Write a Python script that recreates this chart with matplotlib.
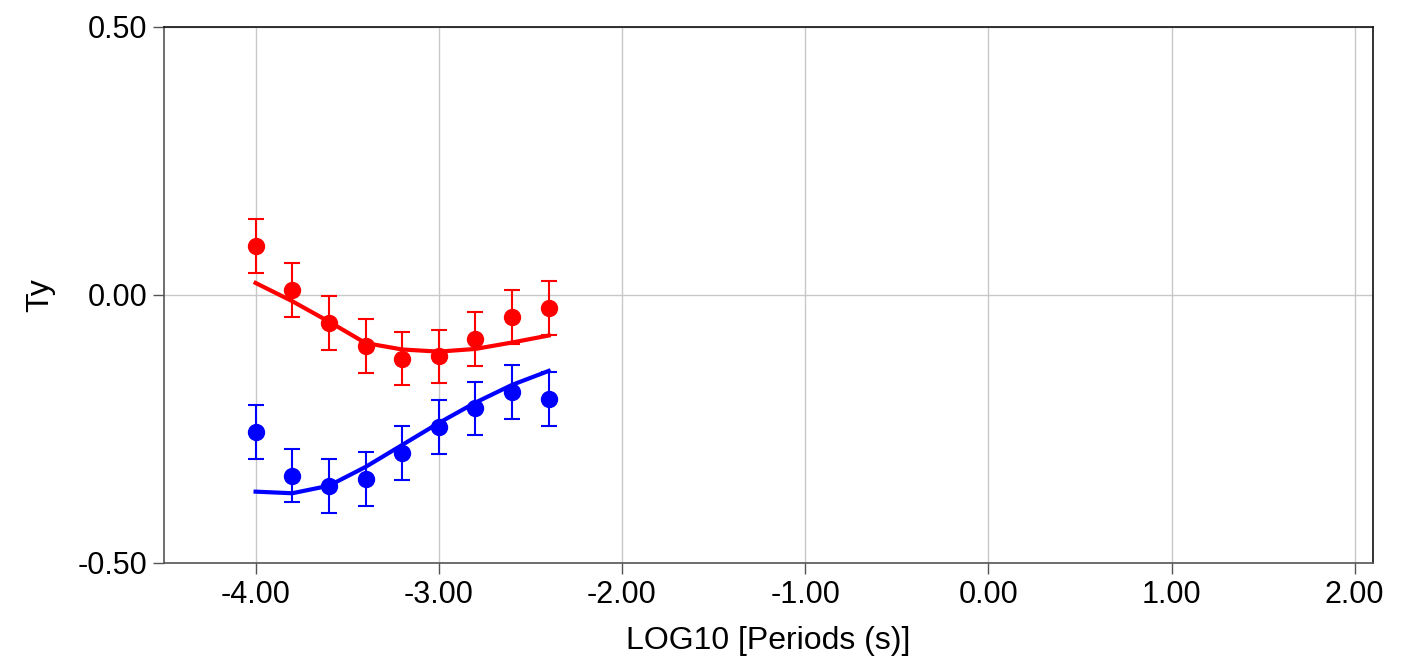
import matplotlib
matplotlib.use("Agg")
import matplotlib.pyplot as plt

plt.rcParams['font.family'] = ['Liberation Sans', 'DejaVu Sans']

periods = [-4.0, -3.8, -3.6, -3.4, -3.2, -3.0, -2.8, -2.6, -2.4]
red_obs = [0.091, 0.009, -0.053, -0.096, -0.119, -0.115, -0.082, -0.041, -0.025]
red_err = [0.05, 0.05, 0.05, 0.05, 0.05, 0.05, 0.05, 0.05, 0.05]
red_fit = [0.022, -0.012, -0.050, -0.090, -0.102, -0.106, -0.101, -0.089, -0.076]
blue_obs = [-0.256, -0.337, -0.356, -0.344, -0.295, -0.246, -0.212, -0.181, -0.194]
blue_err = [0.05, 0.05, 0.05, 0.05, 0.05, 0.05, 0.05, 0.05, 0.05]
blue_fit = [-0.367, -0.370, -0.356, -0.321, -0.280, -0.239, -0.201, -0.168, -0.142]

xticks = [-4.0, -3.0, -2.0, -1.0, 0.0, 1.0, 2.0]
xticklabels = ["-4.00", "-3.00", "-2.00", "-1.00", "0.00", "1.00", "2.00"]
yticks = [-0.5, 0.0, 0.5]
yticklabels = ["-0.50", "0.00", "0.50"]

fig = plt.figure(figsize=(14.09, 6.63), dpi=100)
ax = fig.add_axes([164/1409, 1-563/663, (1373-164)/1409, (563-26.5)/663])

ax.errorbar(periods, red_obs, yerr=red_err, fmt='o', color='#ff0000', ms=11.5,
            elinewidth=1.5, capsize=5.8, capthick=1.5, zorder=3)
ax.plot(periods, red_fit, color='#ff0000', lw=3, zorder=4)
ax.errorbar(periods, blue_obs, yerr=blue_err, fmt='o', color='#0000ff', ms=11.5,
            elinewidth=1.5, capsize=5.8, capthick=1.5, zorder=3)
ax.plot(periods, blue_fit, color='#0000ff', lw=3, zorder=4)

ax.set_xlim(-4.5, 2.1)
ax.set_ylim(-0.5, 0.5)
ax.set_xticks(xticks)
ax.set_xticklabels(xticklabels)
ax.set_yticks(yticks)
ax.set_yticklabels(yticklabels)
ax.grid(True, color='#c8c8c8', lw=1)
ax.set_axisbelow(True)

ax.tick_params(axis='both', labelsize=22, length=8, width=1, color='#555555', pad=4)
for side in ['left', 'bottom']:
    ax.spines[side].set_color('#555555')
for side in ['top', 'right']:
    ax.spines[side].set_color('#111111')
for s in ax.spines.values():
    s.set_linewidth(1.2)

ax.set_xlabel("LOG10 [Periods (s)]", fontsize=23, labelpad=12)
ax.set_ylabel("Ty", fontsize=23, labelpad=16)

fig.savefig("out.png", dpi=100)
